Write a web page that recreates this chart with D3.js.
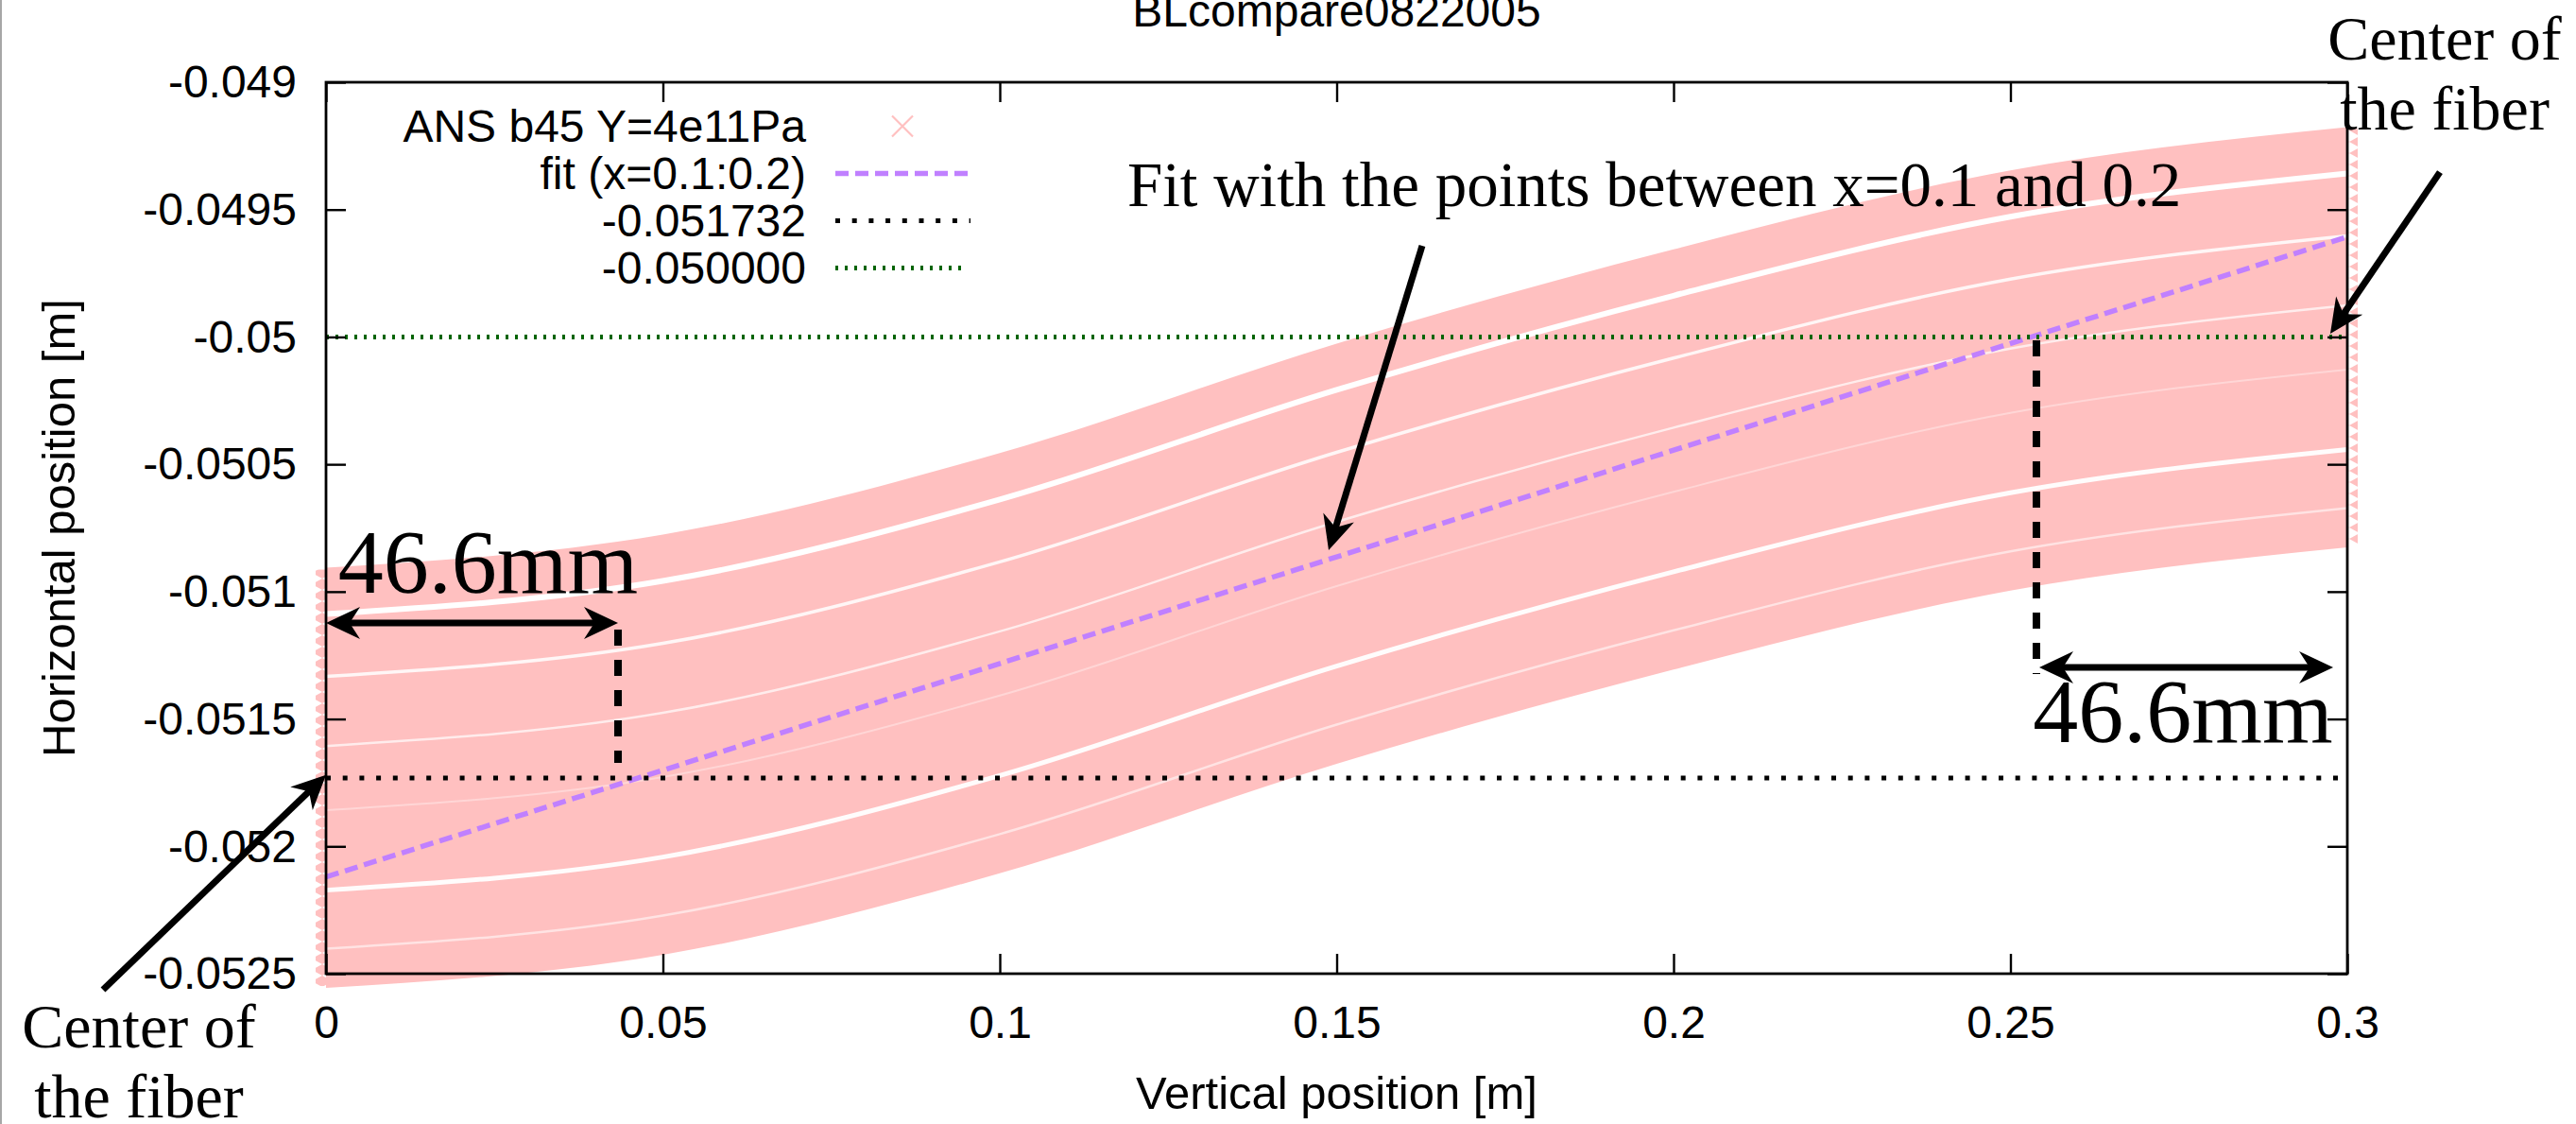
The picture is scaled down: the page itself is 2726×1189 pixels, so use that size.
<!DOCTYPE html>
<html><head><meta charset="utf-8">
<script src="https://cdn.jsdelivr.net/npm/d3@7"></script>
<style>
html,body{margin:0;padding:0;background:#fff;}
svg{display:block;}
</style></head>
<body>
<svg id="chart" width="2726" height="1189"></svg>
<script>
// ---------------- data ----------------
const title = "BLcompare0822005";
const xLabel = "Vertical position [m]";
const yLabel = "Horizontal position [m]";
const xTicks = [0, 0.05, 0.1, 0.15, 0.2, 0.25, 0.3];
const xTickLabels = ["0", "0.05", "0.1", "0.15", "0.2", "0.25", "0.3"];
const yTicks = [-0.049, -0.0495, -0.05, -0.0505, -0.051, -0.0515, -0.052, -0.0525];
const yTickLabels = ["-0.049", "-0.0495", "-0.05", "-0.0505", "-0.051", "-0.0515", "-0.052", "-0.0525"];

// centre line of the simulated point cloud "ANS b45 Y=4e11Pa"
const bandX      = [0, 0.05, 0.1, 0.15, 0.2, 0.25, 0.3];
const bandCenter = [-0.05173, -0.05160, -0.05128, -0.05085, -0.05048, -0.05017, -0.05000];
// outer edges of the cloud: [upper offset, lower offset] from the centre line (m)
const bandEdges = [0.000824, -0.000826];
// sparse rows inside the cloud (offsets from the centre line, m)
const gapOffsets = [0.000642, 0.000397, 0.000124, -0.000128, -0.000442, -0.000672];

// linear fit over x = 0.1 : 0.2
const fitX = [0, 0.3];
const fitY = [-0.05212, -0.049607];

// constant reference levels
const refLevels = [-0.051732, -0.050000];

const legendNames = ["ANS b45 Y=4e11Pa", "fit (x=0.1:0.2)", "-0.051732", "-0.050000"];

// annotations (data coordinates)
const fitNote = {text: "Fit with the points between x=0.1 and 0.2", x: 0.11893, y: -0.049486};
const fitArrow = {x1: 0.16269, y1: -0.049642, x2: 0.14881, y2: -0.050837};
const centerNoteRight = {lines: ["Center of", "the fiber"], x: 0.31445, y: [-0.048911, -0.049186]};
const centerArrowRight = {x1: 0.31374, y1: -0.049353, x2: 0.29747, y2: -0.049987};
const centerNoteLeft = {lines: ["Center of", "the fiber"], x: -0.02777, y: [-0.052789, -0.053064]};
const centerArrowLeft = {x1: -0.0331, y1: -0.052563, x2: 0, y2: -0.05172};
const distNotes = [
  {text: "46.6mm", x: 0.02405, y: -0.051004,
   arrow: {x1: 0, x2: 0.04334, y: -0.051123},
   guide: {x: 0.04334, y1: -0.051149, y2: -0.051672}},
  {text: "46.6mm", x: 0.2756, y: -0.051591,
   arrow: {x1: 0.25428, x2: 0.2979, y: -0.051297},
   guide: {x: 0.25386, y1: -0.050013, y2: -0.051323}}
];

// ---------------- layout / style ----------------
const W = 2726, H = 1189;
const plot = {left: 345, right: 2484, top: 87, bottom: 1030};
const sansFont = "'Liberation Sans', Arial, Helvetica, sans-serif";
const serifFont = "'Liberation Serif', 'Times New Roman', Times, serif";
const pink = "#ffc0c0", purple = "#c080ff", green = "#006400";
const gapWidth = [6, 3.5, 2.5, 2, 5, 2.5];
const gapOpacity = [1, 0.85, 0.7, 0.35, 0.95, 0.55];

const svg = d3.select("#chart");
svg.append("rect").attr("width", W).attr("height", H).attr("fill", "#fff");
svg.append("line").attr("x1", 1).attr("x2", 1).attr("y1", 0).attr("y2", H)
  .attr("stroke", "#8a8a8a").attr("stroke-width", 1.5);

const x = d3.scaleLinear().domain([0, 0.3]).range([plot.left, plot.right]);
const y = d3.scaleLinear().domain([-0.0525, -0.049]).range([plot.bottom, plot.top]);

// ---- point cloud band ----
const defs = svg.append("defs");
const pat = defs.append("pattern").attr("id", "teeth").attr("patternUnits", "userSpaceOnUse")
  .attr("width", 22).attr("height", 12);
pat.append("path").attr("d", "M0,6L11,0L22,6L11,12Z").attr("fill", pink);

const idx = d3.range(bandX.length);
const gBand = svg.append("g");
const area = d3.area()
  .x(i => x(bandX[i]))
  .y0(i => y(bandCenter[i] + bandEdges[1]))
  .y1(i => y(bandCenter[i] + bandEdges[0]))
  .curve(d3.curveMonotoneX);
gBand.append("path").attr("d", area(idx)).attr("fill", pink);
// jagged ends made by the cross markers at the first and last x
[0, bandX.length - 1].forEach(i => {
  const top = y(bandCenter[i] + bandEdges[0]), bot = y(bandCenter[i] + bandEdges[1]);
  gBand.append("rect").attr("x", x(bandX[i]) - 11).attr("y", top + 2)
    .attr("width", 22).attr("height", bot - top - 4).attr("fill", "url(#teeth)");
});
gapOffsets.forEach((off, k) => {
  const line = d3.line().x(i => x(bandX[i])).y(i => y(bandCenter[i] + off)).curve(d3.curveMonotoneX);
  gBand.append("path").attr("d", line(idx)).attr("fill", "none")
    .attr("stroke", "#fff").attr("stroke-width", gapWidth[k]).attr("stroke-opacity", gapOpacity[k]);
});

// ---- fit line ----
svg.append("path")
  .attr("d", d3.line().x((d, i) => x(fitX[i])).y((d, i) => y(fitY[i]))(fitX))
  .attr("fill", "none").attr("stroke", purple).attr("stroke-width", 5.5)
  .attr("stroke-dasharray", "14,7");

// ---- reference levels ----
const refStyles = [
  {color: "#000", dash: "5,12.7", width: 5},
  {color: green, dash: "3,7", width: 5}
];
refLevels.forEach((v, k) => {
  svg.append("line")
    .attr("x1", x(0)).attr("x2", x(0.3)).attr("y1", y(v)).attr("y2", y(v))
    .attr("stroke", refStyles[k].color).attr("stroke-width", refStyles[k].width)
    .attr("stroke-dasharray", refStyles[k].dash);
});

// ---- axes ----
const tickLen = 21, fs = 48;
function styleAxis(g) {
  g.select(".domain").remove();
  g.selectAll(".tick line").attr("stroke", "#000").attr("stroke-width", 2.4);
  g.selectAll("text").attr("font-family", sansFont).attr("font-size", fs).attr("fill", "#000");
}
const gx = svg.append("g").attr("transform", `translate(0,${plot.bottom})`)
  .call(d3.axisBottom(x).tickValues(xTicks).tickFormat((d, i) => xTickLabels[i])
    .tickSizeInner(-tickLen).tickSizeOuter(0));
styleAxis(gx);
gx.selectAll("text").attr("y", 68).attr("dy", null);

svg.append("g").attr("transform", `translate(0,${plot.top})`)
  .call(d3.axisTop(x).tickValues(xTicks).tickFormat("").tickSizeInner(-tickLen).tickSizeOuter(0))
  .call(styleAxis);

const gy = svg.append("g").attr("transform", `translate(${plot.left},0)`)
  .call(d3.axisLeft(y).tickValues(yTicks).tickFormat((d, i) => yTickLabels[i])
    .tickSizeInner(-tickLen).tickSizeOuter(0));
styleAxis(gy);
gy.selectAll("text").attr("x", -31).attr("dy", "0.33em");

svg.append("g").attr("transform", `translate(${plot.right},0)`)
  .call(d3.axisRight(y).tickValues(yTicks).tickFormat("").tickSizeInner(-tickLen).tickSizeOuter(0))
  .call(styleAxis);

svg.append("rect")
  .attr("x", plot.left).attr("y", plot.top)
  .attr("width", plot.right - plot.left).attr("height", plot.bottom - plot.top)
  .attr("fill", "none").attr("stroke", "#000").attr("stroke-width", 2.8);

// ---- titles ----
svg.append("text").attr("x", (plot.left + plot.right) / 2).attr("y", 28)
  .attr("text-anchor", "middle").attr("font-family", sansFont).attr("font-size", fs)
  .text(title);
svg.append("text").attr("x", (plot.left + plot.right) / 2).attr("y", 1173)
  .attr("text-anchor", "middle").attr("font-family", sansFont).attr("font-size", 49)
  .text(xLabel);
svg.append("text")
  .attr("transform", `translate(79,${(plot.top + plot.bottom) / 2}) rotate(-90)`)
  .attr("text-anchor", "middle").attr("font-family", sansFont).attr("font-size", 49)
  .text(yLabel);

// ---- legend ----
const leg = {textRight: 853, x0: 884, x1: 1027, base0: 150, step: 50};
const gLeg = svg.append("g");
legendNames.forEach((name, k) => {
  const by = leg.base0 + k * leg.step;
  gLeg.append("text").attr("x", leg.textRight).attr("y", by)
    .attr("text-anchor", "end").attr("font-family", sansFont).attr("font-size", fs)
    .text(name);
  const cy = by - 16.5;
  if (k === 0) {
    const cx = (leg.x0 + leg.x1) / 2 - 0.5, s = 11;
    gLeg.append("path")
      .attr("d", `M${cx - s},${cy - s}L${cx + s},${cy + s}M${cx - s},${cy + s}L${cx + s},${cy - s}`)
      .attr("stroke", pink).attr("stroke-width", 2.2).attr("fill", "none");
  } else {
    const st = k === 1 ? {color: purple, dash: "14,7", width: 5.5} : refStyles[k - 2];
    gLeg.append("line").attr("x1", leg.x0).attr("x2", k === 3 ? leg.x1 - 5 : leg.x1)
      .attr("y1", cy).attr("y2", cy)
      .attr("stroke", st.color).attr("stroke-width", st.width).attr("stroke-dasharray", st.dash);
  }
});

// ---- annotations ----
const gAnn = svg.append("g");
function arrowHead(px, py, ang) {
  const L = 36, Wd = 17, N = 25;
  const c = Math.cos(ang), s = Math.sin(ang);
  const pt = (a, b) => [px - a * c - b * s, py - a * s + b * c];
  const p = [[px, py], pt(L, Wd), pt(N, 0), pt(L, -Wd)];
  gAnn.append("path").attr("d", "M" + p.map(q => q.join(",")).join("L") + "Z").attr("fill", "#000");
}
function arrow(x1, y1, x2, y2, both) {
  const ang = Math.atan2(y2 - y1, x2 - x1);
  const c = Math.cos(ang), s = Math.sin(ang), back = 24;
  const sx = both ? x1 + back * c : x1, sy = both ? y1 + back * s : y1;
  gAnn.append("line").attr("x1", sx).attr("y1", sy)
    .attr("x2", x2 - back * c).attr("y2", y2 - back * s)
    .attr("stroke", "#000").attr("stroke-width", 7);
  arrowHead(x2, y2, ang);
  if (both) arrowHead(x1, y1, ang + Math.PI);
}

gAnn.append("text").attr("x", x(fitNote.x)).attr("y", y(fitNote.y))
  .attr("font-family", serifFont).attr("font-size", 67).text(fitNote.text);
arrow(x(fitArrow.x1), y(fitArrow.y1), x(fitArrow.x2), y(fitArrow.y2), false);

[[centerNoteRight, centerArrowRight], [centerNoteLeft, centerArrowLeft]].forEach(([n, a]) => {
  n.lines.forEach((ln, k) => {
    gAnn.append("text").attr("x", x(n.x)).attr("y", y(n.y[k]))
      .attr("text-anchor", "middle").attr("font-family", serifFont).attr("font-size", 66).text(ln);
  });
  arrow(x(a.x1), y(a.y1), x(a.x2), y(a.y2), false);
});

distNotes.forEach(d => {
  gAnn.append("line").attr("x1", x(d.guide.x)).attr("x2", x(d.guide.x))
    .attr("y1", y(d.guide.y1)).attr("y2", y(d.guide.y2))
    .attr("stroke", "#000").attr("stroke-width", 8).attr("stroke-dasharray", "17,15");
  arrow(x(d.arrow.x1), y(d.arrow.y), x(d.arrow.x2), y(d.arrow.y), true);
  gAnn.append("text").attr("x", x(d.x)).attr("y", y(d.y))
    .attr("text-anchor", "middle").attr("font-family", serifFont).attr("font-size", 96).text(d.text);
});
</script>
</body></html>
